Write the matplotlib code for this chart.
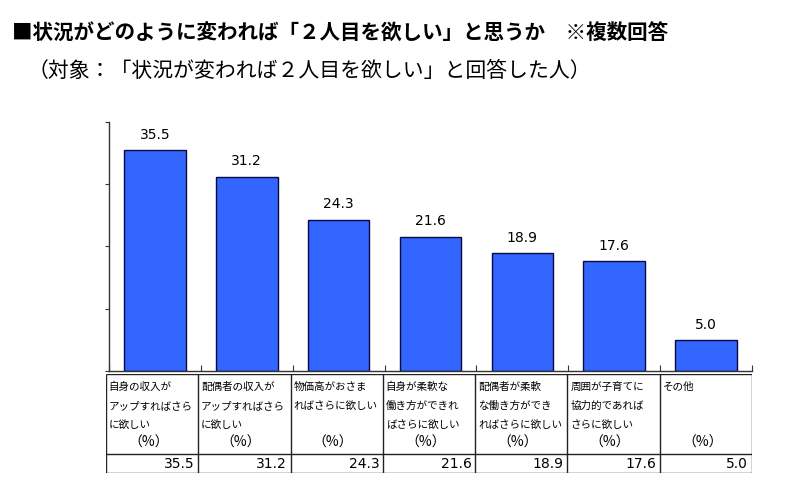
import numpy as np
import matplotlib
matplotlib.use("Agg")
import matplotlib.pyplot as plt

plt.rcParams['font.family'] = ['Noto Sans CJK JP', 'DejaVu Sans']

# データ
title = "■状況がどのように変われば「２人目を欲しい」と思うか　※複数回答"
subtitle = "（対象：「状況が変われば２人目を欲しい」と回答した人）"
categories = [
    "自身の収入が\nアップすればさら\nに欲しい",
    "配偶者の収入が\nアップすればさら\nに欲しい",
    "物価高がおさま\nればさらに欲しい",
    "自身が柔軟な\n働き方ができれ\nばさらに欲しい",
    "配偶者が柔軟\nな働き方ができ\nればさらに欲しい",
    "周囲が子育てに\n協力的であれば\nさらに欲しい",
    "その他",
]
values = [35.5, 31.2, 24.3, 21.6, 18.9, 17.6, 5.0]
unit = "（%）"
y_ticks = [0, 10, 20, 30, 40]

W, H = 800, 494
fig = plt.figure(figsize=(8, 4.94), dpi=100)

# グラフ部分
ax = fig.add_axes([109 / W, 1 - 371 / H, (752 - 109) / W, (371 - 122) / H])
x = np.arange(len(values))
bars = ax.bar(x, values, width=0.67, color='#3366ff', edgecolor='#0a0a40', linewidth=1)
ax.bar_label(bars, fmt='%.1f', padding=6, fontsize=10, family='DejaVu Sans')

ax.set_xlim(-0.5, len(values) - 0.5)
ax.set_ylim(0, 40)
ax.set_yticks(y_ticks)
ax.set_yticklabels([])
ax.set_xticks(np.arange(-0.5, len(values), 1))
ax.set_xticklabels([])
ax.tick_params(axis='y', direction='out', length=3, color='#333333')
ax.tick_params(axis='x', direction='in', length=4, color='#333333')
for s in ['top', 'right']:
    ax.spines[s].set_visible(False)
for s in ['left', 'bottom']:
    ax.spines[s].set_color('#333333')
    ax.spines[s].set_linewidth(1)

# 表
x0, x1 = 106, 752
tab_top, tab_mid, tab_bot = 374, 454, 473
tax = fig.add_axes([x0 / W, 1 - tab_bot / H, (x1 - x0) / W, (tab_bot - tab_top) / H])
tax.set_xlim(-0.5, len(values) - 0.5)
tax.set_ylim(tab_bot, tab_top)
tax.axis('off')
lc = '#222222'
tax.hlines([tab_top, tab_mid, tab_bot], -0.5, len(values) - 0.5, color=lc, lw=1)
tax.vlines(np.arange(-0.5, len(values), 1), tab_top, tab_bot, color=lc, lw=1)
for i, (lab, v) in enumerate(zip(categories, values)):
    for j, line in enumerate(lab.split("\n")):
        tax.text(i - 0.47, 387 + j * 19, line, fontsize=7.6, va='center', ha='left')
    tax.text(i - 0.04, 443, unit, fontsize=10, va='center', ha='center')
    tax.text(i + 0.46, 464, f"{v:.1f}", fontsize=10, va='center', ha='right',
             family='DejaVu Sans')

fig.text(12 / W, 1 - 33 / H, title, fontsize=14.8, va='center', ha='left', weight='bold')
fig.text(28 / W, 1 - 71 / H, subtitle, fontsize=15, va='center', ha='left')

fig.savefig("out.png", dpi=100)
